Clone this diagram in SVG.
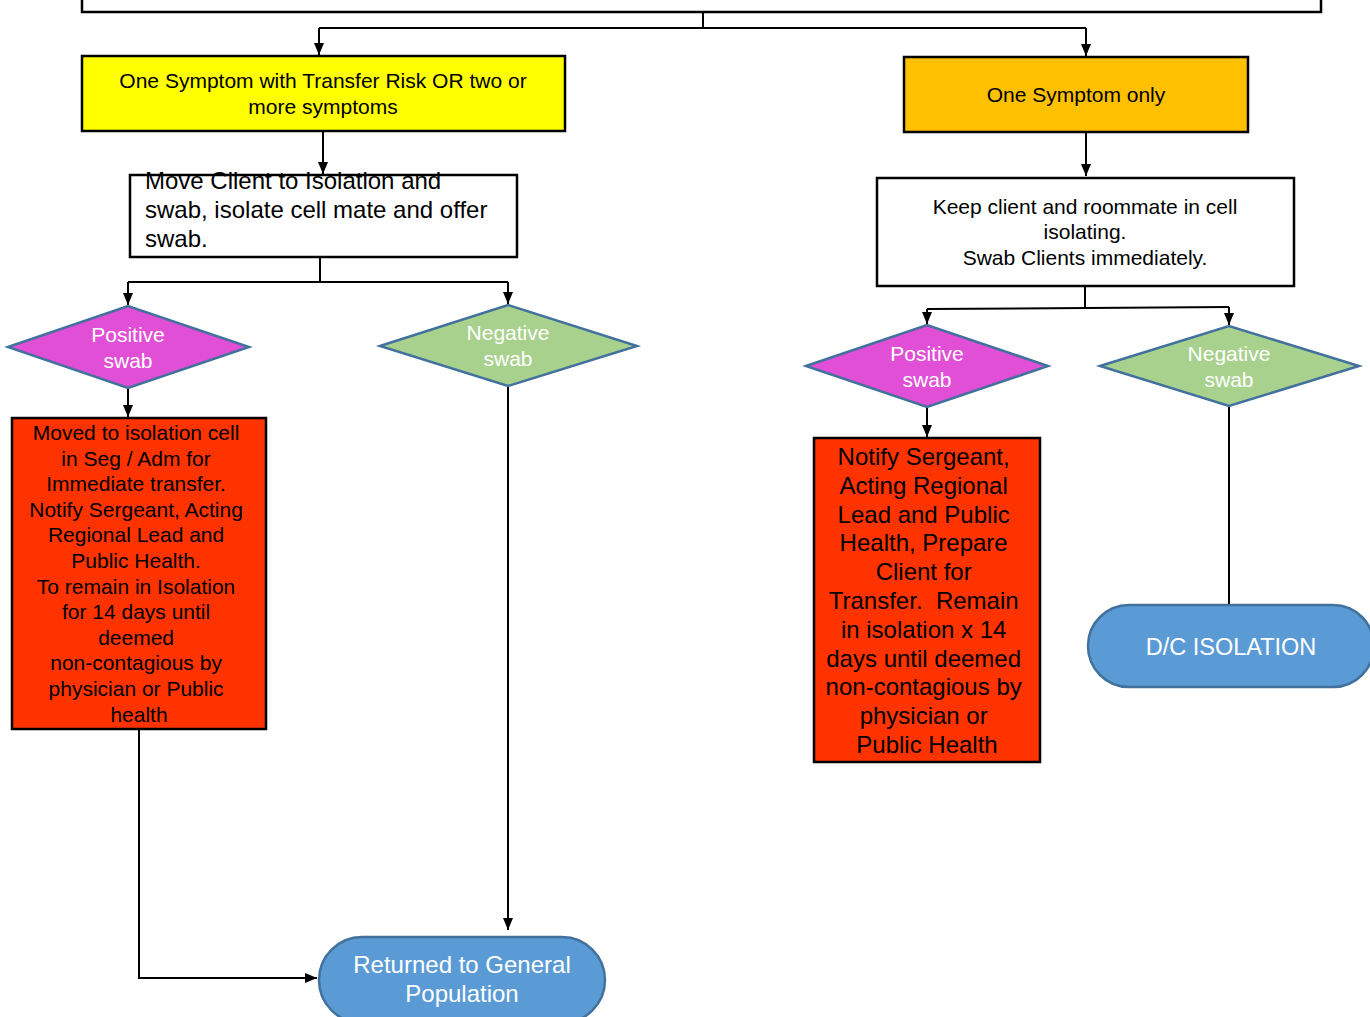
<svg xmlns="http://www.w3.org/2000/svg" width="1370" height="1017" viewBox="0 0 1370 1017">
<style>
.box{stroke:#000;stroke-width:2.5}
.dia{stroke:#41719c;stroke-width:2.5}
.pill{fill:#5b9bd5;stroke:#41719c;stroke-width:2.5}
.t{font-family:"Liberation Sans",Arial,sans-serif;text-anchor:middle;fill:#000}
.l{text-anchor:start}
.w{fill:#fff}
.c{fill:none;stroke:#000;stroke-width:2}
</style>
<defs>
<marker id="ah" viewBox="0 0 12 10" refX="12" refY="5" markerWidth="12" markerHeight="10" markerUnits="userSpaceOnUse" orient="auto">
<path d="M0,0 L12,5 L0,10 z" fill="#000"/>
</marker>
</defs>
<rect width="1370" height="1017" fill="#fff"/>

<g id="connectors">
<path class="c" d="M703,12 V28"/>
<path class="c" d="M319,28 H1086"/>
<path class="c" d="M319,28 V55" marker-end="url(#ah)"/>
<path class="c" d="M1086,28 V56" marker-end="url(#ah)"/>
<path class="c" d="M323,131 V174" marker-end="url(#ah)"/>
<path class="c" d="M320,257 V282"/>
<path class="c" d="M128,282 H508"/>
<path class="c" d="M128,282 V305" marker-end="url(#ah)"/>
<path class="c" d="M508,282 V304" marker-end="url(#ah)"/>
<path class="c" d="M128,388 V417" marker-end="url(#ah)"/>
<path class="c" d="M139,729 V978 H317" marker-end="url(#ah)"/>
<path class="c" d="M508,386 V930" marker-end="url(#ah)"/>
<path class="c" d="M1086,132 V176" marker-end="url(#ah)"/>
<path class="c" d="M1085,286 V308"/>
<path class="c" d="M927,309 L1229,307"/>
<path class="c" d="M927,309 V324" marker-end="url(#ah)"/>
<path class="c" d="M1229,307 V325" marker-end="url(#ah)"/>
<path class="c" d="M927,407 V437" marker-end="url(#ah)"/>
<path class="c" d="M1229,406 V605"/>
</g>

<g id="top">
<rect class="box" x="82" y="-20" width="1239" height="32" fill="#fff"/>
</g>

<g id="yellow">
<rect class="box" x="82" y="56" width="483" height="75" fill="#ffff00"/>
<text class="t" x="323" y="88" font-size="21">One Symptom with Transfer Risk OR two or</text>
<text class="t" x="323" y="114" font-size="21">more symptoms</text>
</g>

<g id="orange">
<rect class="box" x="904" y="57" width="344" height="75" fill="#ffc000"/>
<text class="t" x="1076" y="102" font-size="21">One Symptom only</text>
</g>

<g id="move">
<rect class="box" x="130" y="175" width="387" height="82" fill="#fff"/>
<text class="t l" x="145" y="189" font-size="24">Move Client to Isolation and</text>
<text class="t l" x="145" y="218" font-size="24">swab, isolate cell mate and offer</text>
<text class="t l" x="145" y="247" font-size="24">swab.</text>
</g>

<g id="keep">
<rect class="box" x="877" y="178" width="417" height="108" fill="#fff"/>
<text class="t" x="1085" y="214" font-size="21">Keep client and roommate in cell</text>
<text class="t" x="1085" y="239" font-size="21">isolating.</text>
<text class="t" x="1085" y="265" font-size="21">Swab Clients immediately.</text>
</g>

<g id="pos-left">
<polygon class="dia" points="8,347 128,306 249,347 128,388" fill="#e04fd6"/>
<text class="t w" x="128" y="342" font-size="21">Positive</text>
<text class="t w" x="128" y="368" font-size="21">swab</text>
</g>

<g id="neg-left">
<polygon class="dia" points="380,346 508,305 637,346 508,386" fill="#a9d18e"/>
<text class="t w" x="508" y="340" font-size="21">Negative</text>
<text class="t w" x="508" y="366" font-size="21">swab</text>
</g>

<g id="pos-right">
<polygon class="dia" points="806,366 927,325 1048,366 927,407" fill="#e04fd6"/>
<text class="t w" x="927" y="361" font-size="21">Positive</text>
<text class="t w" x="927" y="387" font-size="21">swab</text>
</g>

<g id="neg-right">
<polygon class="dia" points="1100,366 1229,326 1359,366 1229,406" fill="#a9d18e"/>
<text class="t w" x="1229" y="361" font-size="21">Negative</text>
<text class="t w" x="1229" y="387" font-size="21">swab</text>
</g>

<g id="red-left">
<rect class="box" x="12" y="418" width="254" height="311" fill="#ff3300"/>
<text class="t" x="139" font-size="21">
<tspan x="139" y="440">Moved to isolation cell</tspan>
<tspan x="139" y="465.6">in Seg / Adm for</tspan>
<tspan x="139" y="491.2">Immediate transfer.</tspan>
<tspan x="139" y="516.8">Notify Sergeant, Acting</tspan>
<tspan x="139" y="542.4">Regional Lead and</tspan>
<tspan x="139" y="568">Public Health.</tspan>
<tspan x="139" y="593.6">To remain in Isolation</tspan>
<tspan x="139" y="619.2">for 14 days until</tspan>
<tspan x="139" y="644.8">deemed</tspan>
<tspan x="139" y="670.4">non-contagious by</tspan>
<tspan x="139" y="696">physician or Public</tspan>
<tspan x="139" y="721.6">health</tspan>
</text>
</g>

<g id="red-right">
<rect class="box" x="814" y="438" width="226" height="324" fill="#ff3300"/>
<text class="t" x="927" font-size="24">
<tspan x="927" y="465">Notify Sergeant,</tspan>
<tspan x="927" y="493.8">Acting Regional</tspan>
<tspan x="927" y="522.6">Lead and Public</tspan>
<tspan x="927" y="551.4">Health, Prepare</tspan>
<tspan x="927" y="580.2">Client for</tspan>
<tspan x="927" y="609">Transfer.&#160; Remain</tspan>
<tspan x="927" y="637.8">in isolation x 14</tspan>
<tspan x="927" y="666.6">days until deemed</tspan>
<tspan x="927" y="695.4">non-contagious by</tspan>
<tspan x="927" y="724.2">physician or</tspan>
<tspan x="927" y="753">Public Health</tspan>
</text>
</g>

<g id="dc">
<rect class="pill" x="1088" y="605" width="286" height="82" rx="41" ry="41"/>
<text class="t w" x="1231" y="655" font-size="23.5">D/C ISOLATION</text>
</g>

<g id="returned">
<rect class="pill" x="319" y="937" width="286" height="86" rx="43" ry="43"/>
<text class="t w" x="462" y="973" font-size="24">Returned to General</text>
<text class="t w" x="462" y="1002" font-size="24">Population</text>
</g>
</svg>
